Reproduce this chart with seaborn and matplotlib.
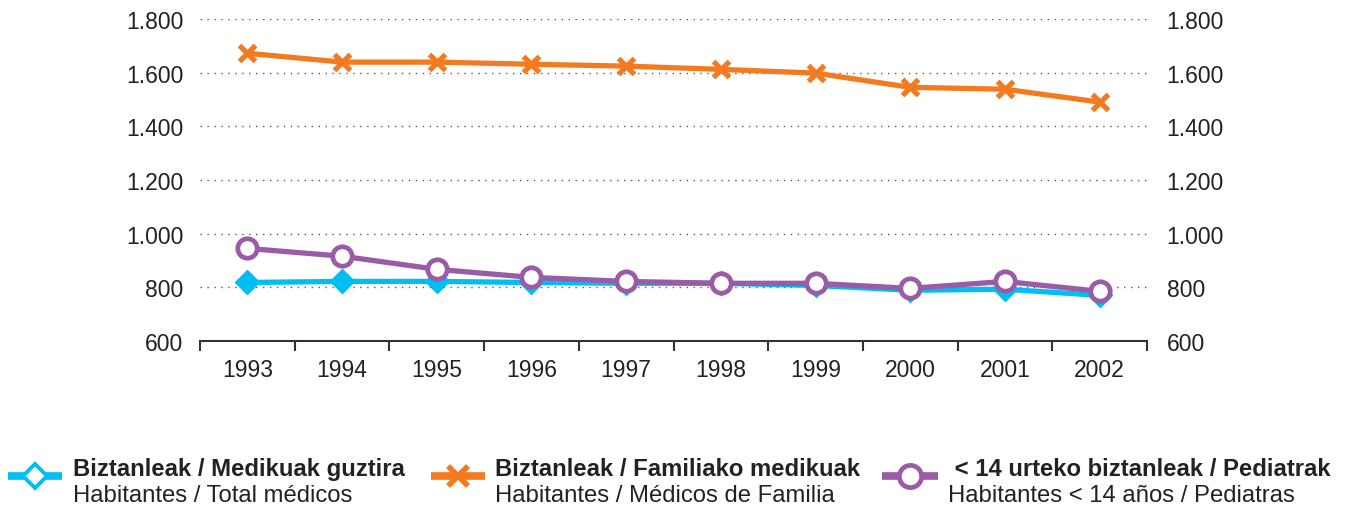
import numpy as np
import pandas as pd
import matplotlib.pyplot as plt
import seaborn as sns
from matplotlib.lines import Line2D
from matplotlib.ticker import FuncFormatter, FixedLocator

# datos
years = ['1993', '1994', '1995', '1996', '1997', '1998', '1999', '2000', '2001', '2002']
total_medicos = [818, 822, 822, 818, 815, 815, 807, 789, 793, 770]
medicos_familia = [1672, 1639, 1639, 1631, 1624, 1612, 1598, 1545, 1538, 1490]
pediatras = [945, 916, 867, 837, 822, 815, 815, 796, 822, 785]

labels_eu = ['Biztanleak / Medikuak guztira',
             'Biztanleak / Familiako medikuak',
             ' < 14 urteko biztanleak / Pediatrak']
labels_es = ['Habitantes / Total médicos',
             'Habitantes / Médicos de Familia',
             'Habitantes < 14 años / Pediatras']

c_cyan = '#00BDF2'
c_orange = '#F47A1F'
c_purple = '#9A5BA7'

sns.set_style('white')
plt.rcParams['font.family'] = ['Liberation Sans', 'DejaVu Sans']

fig = plt.figure(figsize=(13.46, 5.10), dpi=100)
ax = fig.add_axes([0.1486, 0.3294, 0.7036, 0.6316])

df = pd.DataFrame({'year': years, 'total': total_medicos,
                   'familia': medicos_familia, 'pediatras': pediatras})

sns.lineplot(data=df, x='year', y='familia', ax=ax, color=c_orange, lw=3.8,
             marker='x', markersize=12, markeredgewidth=3.8, markeredgecolor=c_orange)
sns.lineplot(data=df, x='year', y='total', ax=ax, color=c_cyan, lw=3.8,
             marker='D', markersize=11, markeredgewidth=2, markeredgecolor=c_cyan,
             markerfacecolor=c_cyan)
sns.lineplot(data=df, x='year', y='pediatras', ax=ax, color=c_purple, lw=3.8,
             marker='o', markersize=14, markeredgewidth=3.4, markeredgecolor=c_purple,
             markerfacecolor='white')

ax.set_xlim(-0.5, len(years) - 0.5)
ax.set_ylim(600, 1800)
yt = np.arange(600, 1801, 200)
ax.set_yticks(yt)
fmt = FuncFormatter(lambda v, p: '{:,.0f}'.format(v).replace(',', '.'))
ax.yaxis.set_major_formatter(fmt)

for v in yt[1:]:
    ax.axhline(v, color='#555555', lw=1.0, ls=(0, (1, 4)), zorder=0)

ax.set_xlabel('')
ax.set_ylabel('')
for s in ['left', 'right', 'top']:
    ax.spines[s].set_visible(False)
ax.spines['bottom'].set_color('#333333')
ax.spines['bottom'].set_linewidth(1.5)

ax.xaxis.set_minor_locator(FixedLocator(np.arange(-0.5, len(years), 1.0)))
ax.tick_params(axis='x', which='minor', bottom=True, length=7, width=1.5,
               color='#333333', direction='out')
ax.tick_params(axis='x', which='major', length=0, pad=12, labelsize=16.5, labelcolor='#222222')
ax.tick_params(axis='y', length=0, pad=12, labelsize=16.5, labelcolor='#222222')

ax2 = ax.twinx()
ax2.set_ylim(ax.get_ylim())
ax2.set_yticks(yt)
ax2.yaxis.set_major_formatter(fmt)
ax2.tick_params(axis='y', length=0, pad=14, labelsize=16.5, labelcolor='#222222')
for s in ['left', 'right', 'top', 'bottom']:
    ax2.spines[s].set_visible(False)
ax2.grid(False)

# leyenda inferior
handles = [
    dict(color=c_cyan, marker='D', ms=12, mfc='white', mec=c_cyan, mew=2.8),
    dict(color=c_orange, marker='x', ms=14, mfc=c_orange, mec=c_orange, mew=4),
    dict(color=c_purple, marker='o', ms=16, mfc='white', mec=c_purple, mew=3.4),
]
hx = [(0.006, 0.046), (0.320, 0.360), (0.655, 0.697)]
tx = [0.054, 0.368, 0.704]
for h, (x0, x1), t, eu, es in zip(handles, hx, tx, labels_eu, labels_es):
    ln = Line2D([x0, (x0 + x1) / 2, x1], [0.065, 0.065, 0.065], lw=5.5,
                solid_capstyle='butt', transform=fig.transFigure, markevery=[1], **h)
    fig.add_artist(ln)
    fig.text(t, 0.080, eu, fontsize=17.2, fontweight='bold', color='#222222', va='center')
    fig.text(t, 0.027, es, fontsize=17.2, color='#222222', va='center')

fig.savefig('out.png', dpi=100)
